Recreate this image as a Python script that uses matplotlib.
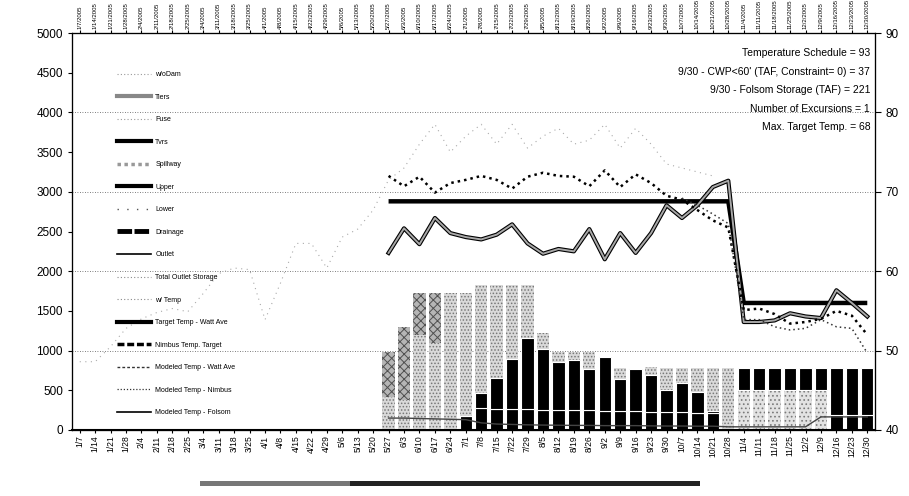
import matplotlib
matplotlib.use("Agg")
import matplotlib.pyplot as plt
import numpy as np
from matplotlib.lines import Line2D
from matplotlib.patches import Rectangle

plt.rcParams["font.family"] = ["Liberation Sans", "DejaVu Sans"]
plt.rcParams["hatch.linewidth"] = 0.7

weeks = ["1/7", "1/14", "1/21", "1/28", "2/4", "2/11", "2/18", "2/25", "3/4", "3/11",
         "3/18", "3/25", "4/1", "4/8", "4/15", "4/22", "4/29", "5/6", "5/13", "5/20",
         "5/27", "6/3", "6/10", "6/17", "6/24", "7/1", "7/8", "7/15", "7/22", "7/29",
         "8/5", "8/12", "8/19", "8/26", "9/2", "9/9", "9/16", "9/23", "9/30", "10/7",
         "10/14", "10/21", "10/28", "11/4", "11/11", "11/18", "11/25", "12/2", "12/9",
         "12/16", "12/23", "12/30"]
top_labels = [w + "/2005" for w in weeks]

nan = np.nan
pad = [0] * 20  # no release bars before 5/27

# stacked release bars (cfs), 5/27 .. 12/30
bar_black_low = pad + [0, 0, 0, 0, 0, 180, 275, 270, 265, 262, 258, 255, 250, 247, 244, 240,
                       236, 232, 228, 224, 220, 215, 0, 0, 0, 0, 0, 0, 0, 190, 190, 190]
bar_light_mid = pad + [0] * 23 + [504, 504, 504, 504, 504, 504, 0, 0, 0]
bar_black_high = pad + [0, 0, 0, 0, 0, 0, 187, 381, 625, 893, 758, 605, 632, 521, 671, 398,
                        532, 461, 276, 364, 254, 24, 0, 273, 273, 273, 273, 273, 273, 587, 587, 587]
bar_light_top = pad + [419, 378, 1196, 1092, 1722, 1542, 1364, 1175, 936, 671, 202, 126, 104,
                       218, 0, 139, 0, 96, 273, 189, 303, 538, 777, 0, 0, 0, 0, 0, 0, 0, 0, 0]
bar_dark_top = pad + [567, 923, 526, 630] + [0] * 28

# storage-like dotted trace (left axis)
storage = [860, 860, 1050, 1280, 1400, 1480, 1530, 1490, 1720, 1970, 2040, 2020, 1390, 1850,
           2350, 2350, 2040, 2430, 2530, 2770, 3150, 3300, 3600, 3850, 3500, 3700, 3850, 3600,
           3850, 3550, 3700, 3800, 3600, 3650, 3850, 3550, 3800, 3600, 3350, 3300, 3250, 3200] + [nan] * 10

# low flow trace near the bottom (left axis)
low_trace = [nan] * 20 + [150, 150, 145, 140, 135, 130, 90, 75, 70, 65, 62, 60, 58, 58, 55, 55,
                          55, 52, 50, 50, 48, 48, 40, 40, 40, 40, 40, 40, 165, 165, 165, 165]

# temperatures (deg F, right axis)
target_watt = [nan] * 20 + [68.8] * 23 + [56.0] * 9
modeled_watt = [nan] * 20 + [62.3, 65.4, 63.4, 66.7, 64.8, 64.3, 64.0, 64.6, 65.9, 63.5, 62.2,
                             62.8, 62.5, 65.3, 61.5, 64.8, 62.3, 64.8, 68.3, 66.7, 68.3, 70.6,
                             71.4, 53.6, 53.6, 53.8, 54.7, 54.3, 54.1, 57.6, 56.0, 54.3]
modeled_nimbus = [nan] * 20 + [72.0, 70.7, 71.9, 69.9, 71.1, 71.5, 72.0, 71.5, 70.4, 71.9, 72.4,
                               72.0, 71.9, 70.7, 72.7, 70.6, 72.2, 71.1, 69.5, 69.0, 67.7, 66.4,
                               65.5, 55.1, 55.3, 54.6, 53.4, 53.6, 54.0, 55.0, 54.4, 52.0]
modeled_folsom = [nan] * 39 + [69.2, 68.3, 67.2, 66.0, 53.9, 53.9, 53.0, 52.6, 52.8, 53.9, 53.0,
                               52.8, 49.7]

notes = ["Temperature Schedule = 93",
         "9/30 - CWP<60' (TAF, Constraint= 0) = 37",
         "9/30 - Folsom Storage (TAF) = 221",
         "Number of Excursions = 1",
         "Max. Target Temp. = 68"]

legend_labels = ["w/oDam", "Tiers", "Fuse", "Tvrs", "Spillway", "Upper", "Lower", "Drainage",
                 "Outlet", "Total Outlet Storage", "w/ Temp", "Target Temp - Watt Ave",
                 "Nimbus Temp. Target", "Modeled Temp - Watt Ave", "Modeled Temp - Nimbus",
                 "Modeled Temp - Folsom"]

fig = plt.figure(figsize=(9.09, 4.96), dpi=100)
ax = fig.add_axes([72 / 909, 1 - 430 / 496, 803 / 909, 397 / 496])
x = np.arange(len(weeks))
w = 0.8

# bars
b1 = np.array(bar_black_low)
b2 = np.array(bar_light_mid)
b3 = np.array(bar_black_high)
b4 = np.array(bar_light_top)
b5 = np.array(bar_dark_top)
ax.bar(x, b1, w, color="black", edgecolor="white", linewidth=0.8)
ax.bar(x, b2, w, bottom=b1, facecolor="#e2e2e2", edgecolor="#7a7a7a", hatch="....", linewidth=0)
ax.bar(x, b3, w, bottom=b1 + b2, color="black", edgecolor="white", linewidth=0.8)
ax.bar(x, b4, w, bottom=b1 + b2 + b3, facecolor="#d9d9d9", edgecolor="#777777", hatch=".....",
       linewidth=0)
ax.bar(x, b5, w, bottom=b1 + b2 + b3 + b4, facecolor="#b5b5b5", edgecolor="#505050",
       hatch="xxxx", linewidth=0)

for g in [1000, 2000, 3000, 4000]:
    ax.axhline(g, color="#555555", lw=0.6, ls=(0, (1, 2)), zorder=0)

ax.plot(x, storage, color="#aaaaaa", lw=0.8, ls=(0, (1, 4)))
ax.plot(x, low_trace, color="#444444", lw=1.0)

ax.set_xlim(-0.5, len(weeks) - 0.5)
ax.set_ylim(0, 5000)
ax.set_yticks(range(0, 5001, 500))
ax.set_xticks(x)
ax.set_xticklabels(weeks, rotation=90, fontsize=6.2)
ax.tick_params(axis="y", labelsize=8.5, length=3, direction="out")
ax.tick_params(axis="x", length=2, pad=2)
for s in ax.spines.values():
    s.set_linewidth(0.8)
ax.spines["bottom"].set_linewidth(1.5)

ax2 = ax.twinx()
ax2.set_ylim(40, 90)
ax2.set_yticks(range(40, 91, 10))
ax2.tick_params(axis="y", labelsize=8.5, length=4, direction="out")
ax2.plot(x, target_watt, color="black", lw=3.2, solid_capstyle="butt")
ax2.plot(x, modeled_watt, color="black", lw=3.0)
ax2.plot(x, modeled_watt, color="#a8a8a8", lw=1.4)
ax2.plot(x, modeled_nimbus, color="black", lw=1.8, ls=(0, (1, 1.6)))
ax2.plot(x, modeled_folsom, color="#333333", lw=1.1, ls=(0, (1, 2)))

ax3 = ax.twiny()
ax3.set_xlim(ax.get_xlim())
ax3.set_xticks(x)
ax3.set_xticklabels(top_labels, rotation=90, fontsize=4.3)
ax3.tick_params(axis="x", length=2, pad=1)

for i, t in enumerate(notes):
    ax.text(0.994, 0.9496 - i * 0.0469, t, transform=ax.transAxes, ha="right", va="center",
            fontsize=7.5)

styles = [
    dict(color="#9a9a9a", lw=0.8, ls=(0, (1, 2))),
    dict(color="#888888", lw=3.0),
    dict(color="#9a9a9a", lw=0.8, ls=(0, (1, 2))),
    dict(color="black", lw=3.0),
    dict(color="#999999", lw=2.5, ls=(0, (1, 1))),
    dict(color="black", lw=3.0),
    dict(color="#555555", lw=1.0, ls=(0, (1, 6))),
    dict(color="black", lw=3.5, ls=(0, (3, 0.5))),
    dict(color="black", lw=1.2),
    dict(color="#8a8a8a", lw=0.8, ls=(0, (1, 2))),
    dict(color="#8a8a8a", lw=0.8, ls=(0, (1, 2))),
    dict(color="black", lw=3.0),
    dict(color="black", lw=2.5, ls=(0, (2, 0.8))),
    dict(color="#333333", lw=1.0, ls=(0, (2, 1.5))),
    dict(color="#333333", lw=0.9, ls=(0, (1, 1.5))),
    dict(color="black", lw=1.2),
]
handles = [Line2D([], [], **s) for s in styles]
fig.legend(handles, legend_labels, loc="upper left", bbox_to_anchor=(117 / 909, 1 - 71 / 496),
           frameon=False, fontsize=5, handlelength=4.9, handletextpad=0.6, labelspacing=2.24,
           borderpad=0, borderaxespad=0)

# scanner strip under the chart
fig.patches.append(Rectangle((200 / 909, 1 - 486 / 496), 150 / 909, 5 / 496,
                             transform=fig.transFigure, facecolor="#777777", edgecolor="none"))
fig.patches.append(Rectangle((350 / 909, 1 - 486 / 496), 350 / 909, 5 / 496,
                             transform=fig.transFigure, facecolor="#222222", edgecolor="none"))

fig.savefig("out.png", dpi=100)
